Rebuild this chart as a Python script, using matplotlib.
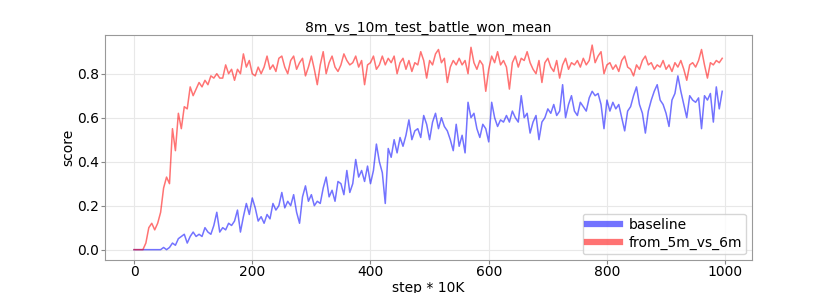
#!/usr/bin/env python

import numpy as np
import matplotlib
matplotlib.use("Agg")
import matplotlib.pyplot as plt

# steps (x 10K), one sample every 5
steps = np.arange(0, 1000, 5)

from_5m_vs_6m = [
    0.00, 0.00, 0.00, 0.00, 0.03, 0.10, 0.12, 0.09, 0.12, 0.17,
    0.28, 0.33, 0.30, 0.55, 0.45, 0.62, 0.55, 0.65, 0.64, 0.74,
    0.70, 0.73, 0.76, 0.74, 0.77, 0.75, 0.79, 0.78, 0.80, 0.78,
    0.78, 0.84, 0.80, 0.82, 0.77, 0.82, 0.80, 0.89, 0.83, 0.86,
    0.80, 0.79, 0.83, 0.80, 0.83, 0.88, 0.82, 0.84, 0.81, 0.87,
    0.88, 0.83, 0.80, 0.86, 0.88, 0.82, 0.85, 0.87, 0.79, 0.83,
    0.88, 0.82, 0.75, 0.84, 0.90, 0.80, 0.85, 0.88, 0.83, 0.81,
    0.84, 0.89, 0.86, 0.84, 0.85, 0.88, 0.83, 0.86, 0.75, 0.84,
    0.85, 0.88, 0.82, 0.84, 0.88, 0.84, 0.87, 0.85, 0.88, 0.80,
    0.85, 0.87, 0.82, 0.86, 0.81, 0.85, 0.84, 0.90, 0.86, 0.78,
    0.86, 0.84, 0.89, 0.91, 0.85, 0.87, 0.76, 0.83, 0.86, 0.84,
    0.87, 0.84, 0.86, 0.80, 0.92, 0.85, 0.82, 0.86, 0.84, 0.72,
    0.82, 0.88, 0.85, 0.90, 0.84, 0.86, 0.83, 0.73, 0.85, 0.88,
    0.83, 0.87, 0.86, 0.90, 0.85, 0.82, 0.80, 0.86, 0.76, 0.85,
    0.87, 0.83, 0.81, 0.86, 0.78, 0.84, 0.87, 0.82, 0.85, 0.84,
    0.86, 0.83, 0.87, 0.84, 0.86, 0.93, 0.85, 0.88, 0.90, 0.80,
    0.84, 0.85, 0.82, 0.84, 0.81, 0.86, 0.88, 0.83, 0.82, 0.79,
    0.84, 0.82, 0.86, 0.88, 0.84, 0.85, 0.82, 0.84, 0.83, 0.86,
    0.82, 0.84, 0.81, 0.85, 0.83, 0.86, 0.82, 0.77, 0.84, 0.85,
    0.83, 0.86, 0.91, 0.84, 0.78, 0.85, 0.84, 0.86, 0.85, 0.87,
]

baseline = [
    0.00, 0.00, 0.00, 0.00, 0.00, 0.00, 0.00, 0.00, 0.00, 0.00,
    0.01, 0.00, 0.01, 0.03, 0.02, 0.05, 0.06, 0.07, 0.03, 0.06,
    0.08, 0.06, 0.07, 0.06, 0.10, 0.08, 0.07, 0.11, 0.17, 0.08,
    0.10, 0.09, 0.12, 0.11, 0.13, 0.18, 0.08, 0.15, 0.21, 0.16,
    0.235, 0.19, 0.13, 0.15, 0.12, 0.16, 0.14, 0.21, 0.18, 0.20,
    0.26, 0.19, 0.22, 0.20, 0.25, 0.17, 0.12, 0.24, 0.29, 0.22,
    0.25, 0.20, 0.22, 0.21, 0.28, 0.33, 0.24, 0.27, 0.22, 0.31,
    0.30, 0.25, 0.36, 0.26, 0.30, 0.41, 0.33, 0.36, 0.31, 0.38,
    0.30, 0.36, 0.48, 0.40, 0.35, 0.21, 0.46, 0.42, 0.50, 0.44,
    0.51, 0.47, 0.52, 0.59, 0.50, 0.54, 0.55, 0.51, 0.61, 0.57,
    0.50, 0.58, 0.62, 0.55, 0.60, 0.56, 0.54, 0.50, 0.45, 0.57,
    0.47, 0.52, 0.44, 0.67, 0.60, 0.62, 0.55, 0.51, 0.57, 0.55,
    0.49, 0.67, 0.60, 0.56, 0.59, 0.58, 0.61, 0.58, 0.63, 0.60,
    0.58, 0.70, 0.60, 0.62, 0.53, 0.58, 0.61, 0.50, 0.58, 0.60,
    0.64, 0.62, 0.66, 0.61, 0.63, 0.75, 0.60, 0.66, 0.70, 0.63,
    0.61, 0.67, 0.65, 0.63, 0.69, 0.72, 0.70, 0.71, 0.66, 0.55,
    0.68, 0.63, 0.67, 0.64, 0.66, 0.60, 0.54, 0.63, 0.65, 0.70,
    0.74, 0.66, 0.62, 0.53, 0.63, 0.68, 0.72, 0.75, 0.68, 0.66,
    0.62, 0.56, 0.68, 0.71, 0.79, 0.72, 0.66, 0.60, 0.70, 0.68,
    0.67, 0.69, 0.55, 0.70, 0.68, 0.71, 0.58, 0.74, 0.64, 0.72,
]


def main():
    fs = 10

    fig = plt.figure(figsize=(8.37, 2.93), dpi=100)
    ax = fig.add_axes([0.125, 0.113, 0.773, 0.768])

    ax.plot(steps, baseline, color="b", alpha=0.55, lw=1.1, label="baseline")
    ax.plot(steps, from_5m_vs_6m, color="r", alpha=0.55, lw=1.1,
            label="from_5m_vs_6m")

    ax.set_title("8m_vs_10m_test_battle_won_mean", fontsize=fs, pad=2.5)
    ax.set_xlabel("step * 10K", fontsize=fs, labelpad=1)
    ax.set_ylabel("score", fontsize=fs, labelpad=1)
    ax.tick_params(labelsize=fs, color="#888888", length=3, pad=1)
    ax.set_yticks([0.0, 0.2, 0.4, 0.6, 0.8])
    ax.grid(True, color="#e8e8e8", lw=0.8)
    ax.set_axisbelow(True)
    for s in ax.spines.values():
        s.set_color("#999999")

    leg = ax.legend(loc="lower right", fontsize=fs, handlelength=2.4,
                    handletextpad=0.6, labelspacing=0.3, borderpad=0.3,
                    borderaxespad=0.4)
    for line in leg.get_lines():
        line.set_linewidth(4.5)

    fig.savefig("out.png", dpi=100)


if __name__ == "__main__":
    main()
